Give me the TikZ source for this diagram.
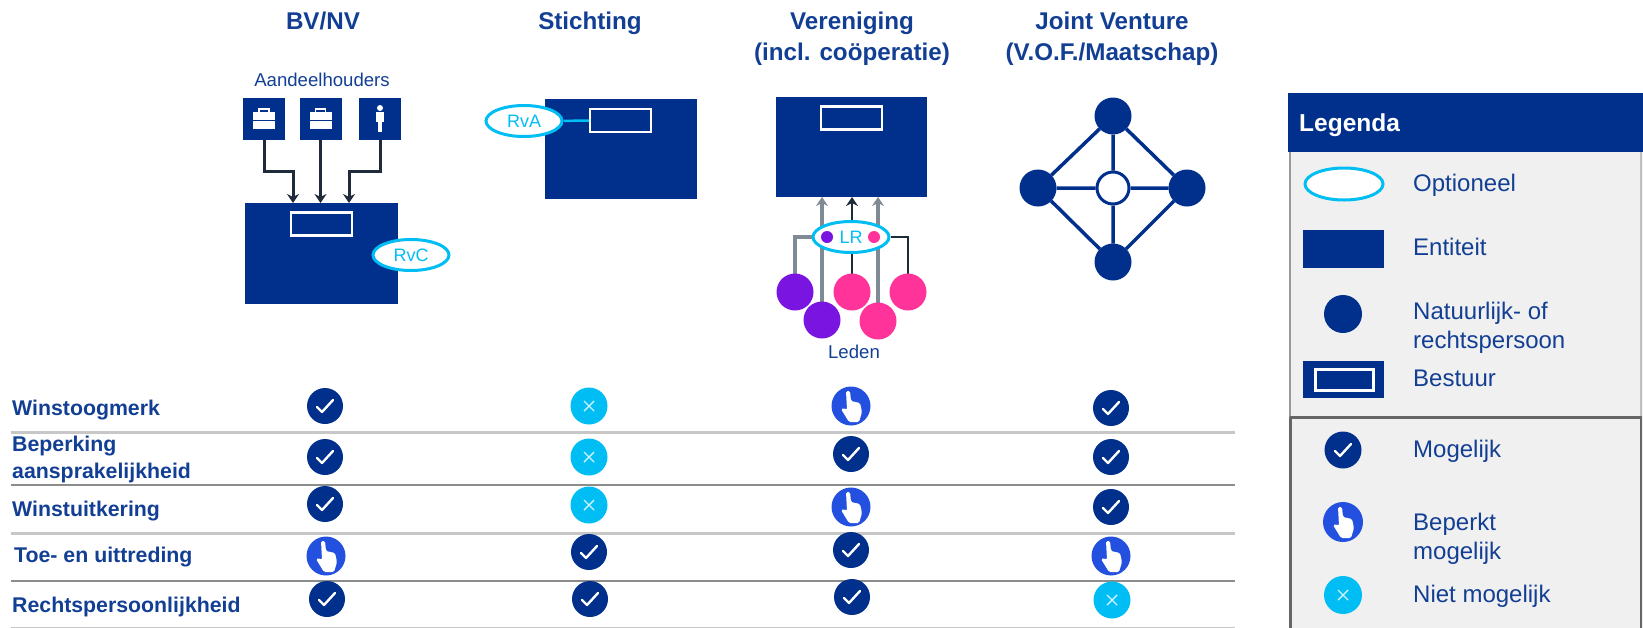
\documentclass[tikz,border=0pt]{standalone}
\usepackage{fontspec}
\setmainfont{Liberation Sans}
\usetikzlibrary{shapes.geometric,arrows.meta,backgrounds}
\definecolor{navy}{HTML}{00308C}
\definecolor{tekst}{HTML}{123F94}
\definecolor{cyaan}{HTML}{00BEF4}
\definecolor{handblauw}{HTML}{2450E0}
\definecolor{paars}{HTML}{7A14E0}
\definecolor{roze}{HTML}{FF3399}
\definecolor{vlak}{HTML}{F0F0F0}
\definecolor{grijs}{HTML}{7F8A94}
\definecolor{donker}{HTML}{1F2A3A}
\newcommand{\fs}[1]{\fontsize{#1}{#1}\selectfont}
\tikzset{
 kop/.style={text=tekst,font=\fs{24.2}\bfseries,align=center,inner sep=0pt},
 rij/.style={text=tekst,font=\fs{21.3}\bfseries,anchor=west,inner sep=0pt},
 leg/.style={text=tekst,font=\fs{24},anchor=west,inner sep=0pt},
 klein/.style={text=tekst,font=\fs{18.6},inner sep=0pt},
 entiteit/.style={rectangle,fill=navy,inner sep=0pt,outer sep=0pt},
 bestuur/.style={rectangle,draw=white,line width=2.5pt,fill=navy,inner sep=0pt,minimum width=61pt,minimum height=23pt},
 optie/.style={ellipse,draw=cyaan,fill=white,line width=3pt,inner sep=0pt,minimum width=76pt,minimum height=31pt,text=cyaan,font=\fs{18}},
 persoon/.style={circle,fill=navy,inner sep=0pt,outer sep=0pt,minimum size=37pt},
 lid/.style={circle,inner sep=0pt,outer sep=0pt,minimum size=37pt},
 link/.style={draw=#1,line width=3pt,->},
 ja/.style={circle,fill=navy,inner sep=0pt,minimum size=36pt,path picture={
  \draw[white,line width=2.4pt,line join=round,line cap=round]([shift={(-8,1)}]path picture bounding box.center)--++(5,5)--++(11,-12);}},
 nee/.style={circle,fill=cyaan,inner sep=0pt,minimum size=37pt,path picture={
  \draw[white!80!cyaan,line width=1.4pt]([shift={(-5,-5)}]path picture bounding box.center)--++(10,10)++(-10,0)--++(10,-10);}},
 beperkt/.style={circle,fill=handblauw,inner sep=0pt,minimum size=39pt,path picture={
  \fill[white,rounded corners=1.5pt]([shift={(-5,-15)}]path picture bounding box.center)--++(4,0)--++(1,10)--++(9,2)--++(2,9)--++(-3,10)--++(-10,0)--++(-8,-13)--++(3,-1)--++(3,2)--cycle;}},
 koffer/.style={entiteit,minimum size=42pt,path picture={
  \fill[white]([shift={(-11,-7)}]path picture bounding box.center)rectangle++(22,17);
  \draw[white,line width=1.5pt]([shift={(-5,-7)}]path picture bounding box.center)--++(0,-3)--++(10,0)--++(0,3);
  \draw[navy,line width=1pt]([shift={(-11,1)}]path picture bounding box.center)--++(22,0);}},
 mens/.style={entiteit,minimum size=42pt,path picture={
  \fill[white]([shift={(0,-11)}]path picture bounding box.center)circle(3pt);
  \fill[white]([shift={(-4,-7)}]path picture bounding box.center)rectangle++(8,10);
  \fill[white]([shift={(-2,3)}]path picture bounding box.center)rectangle++(4,10);}},
}
\begin{document}
\begin{tikzpicture}[x=1pt,y=-1pt,>={Stealth[length=9pt,width=12pt]}]
 \useasboundingbox(0,0)rectangle(1643,627);
 % koppen
 \node[kop](bv)at(323,21){BV/NV};
 \node[kop](st)at(590,23){Stichting};
 \node[kop](ve)at(852,39){Vereniging\\[7pt](incl. coöperatie)};
 \node[kop](jv)at(1112,39){Joint Venture\\[7pt](V.O.F./Maatschap)};
 % BV/NV
 \node[klein](aand)at(322,80){Aandeelhouders};
 \node[koffer](hA)at(264,119){};
 \node[koffer](hB)at(320.5,119){};
 \node[mens](hC)at(380,119){};
 \node[entiteit,minimum width=153pt,minimum height=101pt](bvbox)at(321.5,253.5){};
 \node[bestuur](bvbest)at(321.5,224){};
 \node[optie](rvc)at(411,255){RvC};
 \draw[link=donker](hA.south)--++(0,31)-|([xshift=-28.5pt]bvbox.north);
 \draw[link=donker](hB.south)--(hB.south|-bvbox.north);
 \draw[link=donker](hC.south)--++(0,31)-|([xshift=27.5pt]bvbox.north);
 % Stichting
 \node[entiteit,minimum width=152pt,minimum height=100pt](stbox)at(621,149){};
 \node[bestuur](stbest)at(620.5,120.5){};
 \node[optie](rva)at(524,121){RvA};
 \draw[draw=cyaan,line width=2.5pt](rva)--(stbest);
 % Vereniging
 \node[entiteit,minimum width=151pt,minimum height=100pt](vebox)at(851.5,147){};
 \node[bestuur](vebest)at(851.5,118){};
 \node[optie](lr)at(851,237){LR};
 \foreach \x/\y/\k/\n in{795/292/paars/lidA,822/320/paars/lidB,852/292/roze/lidC,878/321/roze/lidD,908/292/roze/lidE}
 \node[lid,fill=\k](\n)at(\x,\y){};
 \node[circle,fill=paars,minimum size=12pt,inner sep=0pt](stipA)at(827,237){};
 \node[circle,fill=roze,minimum size=12pt,inner sep=0pt](stipB)at(874,237){};
 \node[klein](leden)at(854,352){Leden};
 \begin{pgfonlayer}{background}
 \draw[draw=grijs,line width=3.5pt](lidA.north)|-(lr.west);
 \draw[draw=donker,line width=2.5pt](lidE.north)|-(lr.east);
 \draw[link=grijs,line width=3.5pt](lidB.north)--(lidB.north|-vebox.south);
 \draw[link=donker,line width=2.5pt](lidC.north)--(lidC.north|-vebox.south);
 \draw[link=grijs,line width=3.5pt](lidD.north)--(lidD.north|-vebox.south);
 \end{pgfonlayer}
 % Joint Venture
 \foreach \x/\y/\n in{1113/116/jvT,1038/188/jvL,1187/188/jvR,1113/262/jvB}
 \node[persoon](\n)at(\x,\y){};
 \node[circle,draw=navy,fill=white,line width=3pt,minimum size=32pt,inner sep=0pt](jvM)at(1113,188){};
 \draw[draw=navy,line width=3.5pt](jvT)--(jvL)(jvL)--(jvB)(jvB)--(jvR)(jvR)--(jvT)(jvT)--(jvM)(jvL)--(jvM)(jvR)--(jvM)(jvB)--(jvM);
 % tabel
 \node[rij](rA)at(12,410){Winstoogmerk};
 \node[rij](rBa)at(12,446){Beperking};
 \node[rij](rBb)at(12,473){aansprakelijkheid};
 \node[rij](rC)at(12,511){Winstuitkering};
 \node[rij](rD)at(14,557){Toe- en uittreding};
 \node[rij](rE)at(12,607){Rechtspersoonlijkheid};
 \foreach \y/\k/\d in{432/black!22/3,485/black!45/2,533/black!22/3,581/black!45/2,628/black!22/2}
 \draw[draw=\k,line width=\d pt](11,\y)--(1235,\y);
 \foreach \x/\y/\s/\n in{
 325/406/ja/iA,325/457/ja/iB,325/504/ja/iC,326/556/beperkt/iD,327/599/ja/iE,
 589/406/nee/iF,589/457/nee/iG,589/505/nee/iH,589/552/ja/iI,590/599/ja/iJ,
 851/406/beperkt/iK,851/454/ja/iL,851/507/beperkt/iM,851/550/ja/iN,852/597/ja/iO,
 1111/408/ja/iP,1111/457/ja/iQ,1111/507/ja/iR,1111/556/beperkt/iS,1112/600/nee/iT}
 \node[\s](\n)at(\x,\y){};
 % legenda
 \fill[vlak](1289,152)rectangle(1643,629);
 \draw[draw=black!40,line width=2.5pt](1290,152)--(1290,417);
 \draw[draw=black!25,line width=1.5pt](1641,152)--(1641,417);
 \draw[draw=black!60,line width=3pt](1290,417)--(1290,629)(1290,417)--(1642,417);
 \draw[draw=black!60,line width=2pt](1641,417)--(1641,629);
 \node[entiteit,minimum width=355pt,minimum height=59pt](legkop)at(1465.5,122.5){};
 \node[anchor=west,inner sep=0pt,text=white,font=\fs{24.5}\bfseries](legenda)at(1299,125.5){Legenda};
 \node[optie,minimum width=78pt,minimum height=32pt](lgOpt)at(1344,184){};
 \node[entiteit,minimum width=81pt,minimum height=38pt](lgEnt)at(1343.5,249){};
 \node[persoon,minimum size=38pt](lgPer)at(1343,314){};
 \node[entiteit,minimum width=81pt,minimum height=37pt](lgBes)at(1343.5,379.5){};
 \node[bestuur,minimum width=58pt,minimum height=21pt](lgBin)at(1344.5,380){};
 \node[ja,minimum size=37pt](lgJa)at(1343,450){};
 \node[beperkt,minimum size=40pt](lgBep)at(1343,522){};
 \node[nee,minimum size=38pt](lgNee)at(1343,595){};
 \foreach \y/\t/\n in{185/Optioneel/tA,247/Entiteit/tB,313/Natuurlijk- of/tC,342/rechtspersoon/tD,378/Bestuur/tE,451/Mogelijk/tF,524/Beperkt/tG,553/mogelijk/tH,596/Niet mogelijk/tI}
 \node[leg](\n)at(1413,\y){\t};
\end{tikzpicture}
\end{document}
